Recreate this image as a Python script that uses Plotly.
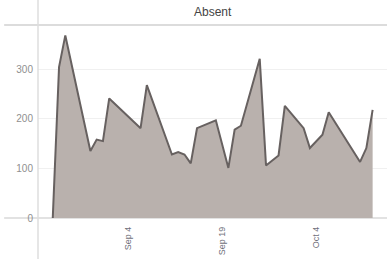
import plotly.graph_objects as go

dates = ["2017-08-23", "2017-08-24", "2017-08-25", "2017-08-29", "2017-08-30", "2017-08-31",
         "2017-09-01", "2017-09-06", "2017-09-07", "2017-09-11", "2017-09-12", "2017-09-13",
         "2017-09-14", "2017-09-15", "2017-09-18", "2017-09-20", "2017-09-21", "2017-09-22",
         "2017-09-25", "2017-09-26", "2017-09-28", "2017-09-29", "2017-10-02", "2017-10-03",
         "2017-10-05", "2017-10-06", "2017-10-11", "2017-10-12", "2017-10-13"]
absent = [0, 304, 368, 135, 158, 155, 241, 181, 268, 128, 133, 128, 110, 181, 197,
          101, 178, 186, 321, 106, 126, 226, 181, 141, 168, 213, 113, 141, 218]

tick_vals = ["2017-09-04", "2017-09-19", "2017-10-04"]
tick_text = ["Sep 4", "Sep 19", "Oct 4"]
y_ticks = [0, 100, 200, 300]
title = "Absent"

fig = go.Figure()
fig.add_trace(go.Scatter(
    x=dates, y=absent, mode="lines", fill="tozeroy",
    fillcolor="#b9b1ad", line=dict(color="#676160", width=2),
    hoverinfo="skip", showlegend=False))

font = "Arial, Liberation Sans, sans-serif"
fig.update_layout(
    width=387, height=259,
    margin=dict(l=38, r=0, t=26, b=41),
    paper_bgcolor="white", plot_bgcolor="white",
    font=dict(family=font, color="#8a8a8a", size=10),
    xaxis=dict(type="date", range=["2017-08-20 15:30", "2017-10-15 07:00"],
               tickvals=tick_vals, ticktext=tick_text, tickangle=-90,
               showgrid=False, zeroline=False, showline=False, automargin=False,
               ticks="", ticklabelstandoff=6,
               tickfont=dict(size=9, color="#6f6f7a")),
    yaxis=dict(range=[0, 387], tickvals=y_ticks, showgrid=True,
               gridcolor="#f0f0f0", gridwidth=1, zeroline=False, automargin=False,
               showline=False, ticks="", ticklabelstandoff=4,
               tickfont=dict(size=10, color="#8f8f8f")),
    shapes=[
        dict(type="line", xref="paper", yref="paper", x0=-0.097, x1=1, y0=1.005, y1=1.005,
             line=dict(color="#dcdcdc", width=2)),
        dict(type="line", xref="paper", yref="paper", x0=-0.097, x1=1, y0=0, y1=0,
             line=dict(color="#d8d8d8", width=1.5), layer="below"),
        dict(type="line", xref="paper", yref="paper", x0=0, x1=0, y0=-0.22, y1=1.14,
             line=dict(color="#dedede", width=1.5)),
    ],
    annotations=[dict(text=title, xref="paper", yref="paper", x=0.5, y=1.0,
                      yshift=5, yanchor="bottom", showarrow=False,
                      font=dict(size=12, color="#444444", family=font))],
)

fig.write_html("out.html", config={"displayModeBar": False},
               post_script="document.body.style.margin='0';document.body.style.overflow='hidden';")
